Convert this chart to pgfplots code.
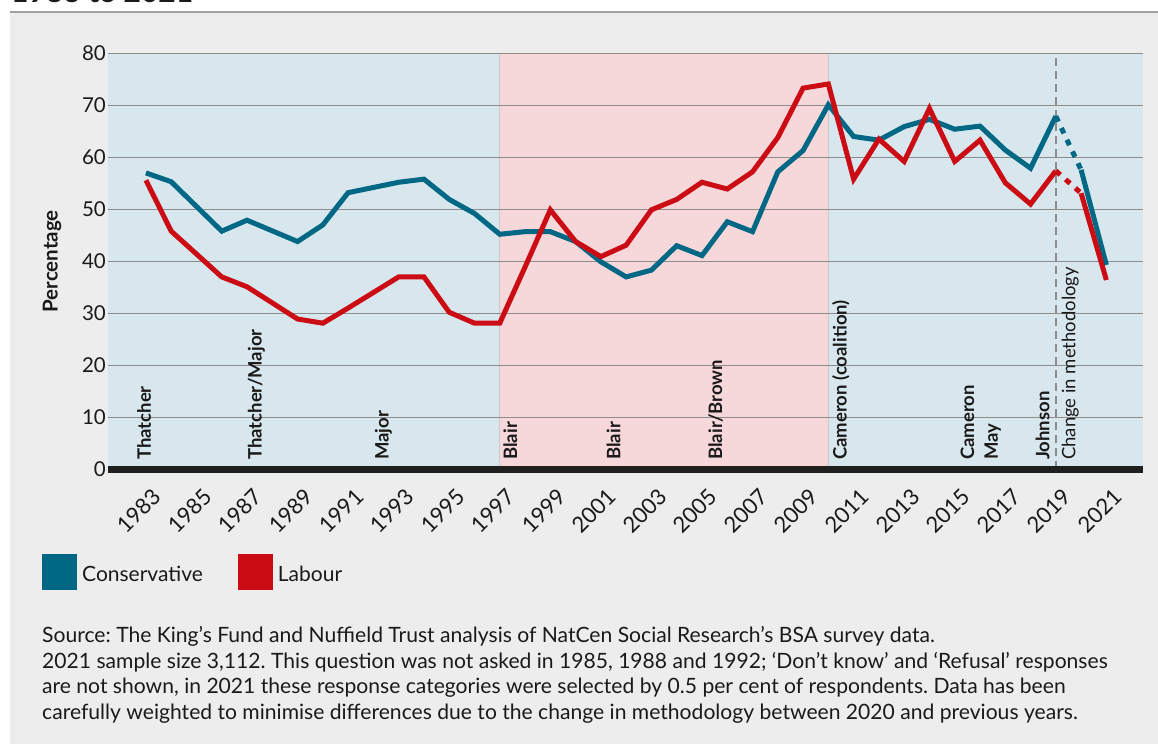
\documentclass[border=0pt]{standalone}
\usepackage{fontspec}
\setmainfont{Lato}
\usepackage{pgfplots}
\usepackage{pgfplotstable}
\pgfplotsset{compat=1.18}

\definecolor{cons}{RGB}{0,104,132}
\definecolor{lab}{RGB}{204,12,20}
\definecolor{panel}{RGB}{237,237,237}
\definecolor{bgblue}{RGB}{216,231,237}
\definecolor{bgpink}{RGB}{246,215,218}
\definecolor{gridc}{RGB}{140,140,140}
\definecolor{txt}{RGB}{26,26,26}
\definecolor{barc}{RGB}{31,31,31}
\definecolor{rulec}{RGB}{160,160,160}
\definecolor{edgec}{RGB}{205,200,205}

\pgfplotsset{
  frame/.style={
    clip=false,
    at={(108pt,274.7pt)}, anchor=south west,
    scale only axis, width=1035pt, height=416pt,
    xmin=1981.5, xmax=2022.45, ymin=0, ymax=80,
  },
}

% survey years (not asked in 1985, 1988, 1992)
\pgfplotstableread{
year cons lab
1983 57.0 55.6
1984 55.3 45.8
1986 45.8 37.0
1987 47.9 35.1
1989 43.8 28.9
1990 47.0 28.1
1991 53.2 31.0
1993 55.2 37.0
1994 55.8 37.0
1995 51.9 30.2
1996 49.2 28.1
1997 45.2 28.1
1998 45.7 38.9
1999 45.7 49.9
2000 43.8 43.8
2001 39.9 40.9
2002 37.0 43.1
2003 38.3 49.9
2004 43.0 51.9
2005 41.1 55.2
2006 47.6 53.9
2007 45.7 57.2
2008 57.2 63.8
2009 61.3 73.3
2010 70.1 74.1
2011 64.0 55.8
2012 63.3 63.5
2013 65.9 59.2
2014 67.3 69.4
2015 65.4 59.2
2016 66.0 63.3
2017 61.4 55.1
2018 57.9 51.0
2019 67.9 57.4
}\oldmethod

\pgfplotstableread{
year cons lab
2019 67.9 57.4
2020 57.6 53.1
}\changeover

\pgfplotstableread{
year cons lab
2020 57.6 53.1
2021 39.3 36.4
}\newmethod

\begin{document}
\begin{tikzpicture}[
  gov/.style={rotate=90, anchor=west, inner sep=0pt, text=txt,
              font=\fontsize{18.5}{20}\selectfont\bfseries}]
\fill[white] (0pt,0pt) rectangle (1158pt,744pt);
\fill[panel] (10pt,0pt) rectangle (1158pt,731pt);
\draw[rulec, line width=2pt] (10pt,731.5pt) -- (1158pt,731.5pt);
\begin{scope}
  \clip (0pt,740pt) rectangle (1158pt,744pt);
  \node[anchor=base west, inner sep=0pt, text=txt, font=\fontsize{30}{36}\selectfont\bfseries] at (11pt,741pt) {1983 to 2021};
\end{scope}

% government bands
\begin{axis}[frame, hide axis]
\addplot[draw=none, fill=bgblue] coordinates {(1981.5,80) (1997,80)} \closedcycle;
\addplot[draw=none, fill=bgpink] coordinates {(1997,80) (2010,80)} \closedcycle;
\addplot[draw=none, fill=bgblue] coordinates {(2010,80) (2022.45,80)} \closedcycle;
\addplot[edgec, line width=1pt] coordinates {(1997,0) (1997,80)};
\addplot[edgec, line width=1pt] coordinates {(2010,0) (2010,80)};
\end{axis}

\begin{axis}[
  frame,
  axis line style={draw=none},
  major tick style={draw=none},
  xtick={1983,1985,...,2021},
  ytick={0,10,...,80},
  ymajorgrids,
  grid style={gridc, line width=1.4pt},
  /pgf/number format/assume math mode=true,
  /pgf/number format/1000 sep={},
  tick label style={font=\fontsize{20.5}{24}\selectfont, text=txt},
  xticklabel style={font=\fontsize{22}{24}\selectfont, rotate=45, anchor=north east,
                    inner sep=1pt, xshift=-7.5pt, yshift=-15.5pt},
  yticklabel style={inner sep=2pt},
  ylabel={Percentage},
  ylabel style={at={(axis description cs:0,0.5)}, anchor=center, yshift=56pt,
                font=\fontsize{20.5}{24}\selectfont\bfseries, text=txt},
  legend columns=2,
  legend image code/.code={\fill[#1] (0pt,-13pt) rectangle (30pt,18pt);},
  legend style={at={(axis description cs:-0.0638,-0.204)}, anchor=north west,
                draw=none, fill=none, inner sep=0pt, text=txt,
                font=\fontsize{21}{24}\selectfont,
                nodes={inner sep=0pt},
                /tikz/every odd column/.append style={column sep=5pt},
                /tikz/every even column/.append style={column sep=35pt}},
]
% methodology change
\addplot[gridc, line width=1.4pt, dash pattern=on 8pt off 5pt, forget plot]
  coordinates {(2019,0) (2019,80)};
% baseline bar
\addplot[barc, line width=6.7pt, forget plot]
  coordinates {(1981.5,0) (2022.45,0)};

\addplot[cons, line width=5pt] table[x=year, y=cons] {\oldmethod};
\addlegendentry{Conservative}
\addplot[lab, line width=5pt] table[x=year, y=lab] {\oldmethod};
\addlegendentry{Labour}

\addplot[cons, line width=5pt, dash pattern=on 6pt off 7pt, forget plot]
  table[x=year, y=cons] {\changeover};
\addplot[cons, line width=5pt, forget plot] table[x=year, y=cons] {\newmethod};
\addplot[lab, line width=5pt, dash pattern=on 6pt off 7pt, forget plot]
  table[x=year, y=lab] {\changeover};
\addplot[lab, line width=5pt, forget plot] table[x=year, y=lab] {\newmethod};

\node[gov] at (axis cs:1982.93,1.8) {Thatcher};
\node[gov] at (axis cs:1987.37,1.8) {Thatcher/Major};
\node[gov] at (axis cs:1992.40,1.8) {Major};
\node[gov] at (axis cs:1997.42,1.8) {Blair};
\node[gov] at (axis cs:2001.50,1.8) {Blair};
\node[gov] at (axis cs:2005.54,1.8) {Blair/Brown};
\node[gov] at (axis cs:2010.49,1.8) {Cameron (coalition)};
\node[gov] at (axis cs:2015.50,1.8) {Cameron};
\node[gov] at (axis cs:2016.50,1.8) {May};
\node[gov] at (axis cs:2018.48,1.8) {Johnson};
\node[gov, font=\fontsize{18.5}{20}\selectfont] at (axis cs:2019.57,1.8) {Change in methodology};
\end{axis}

\begin{scope}[every node/.style={anchor=base west, inner sep=0pt, text=txt, font=\fontsize{21.1}{24}\selectfont\frenchspacing}]
\node at (42pt,102pt) {Source: The King’s Fund and Nuffield Trust analysis of NatCen Social Research’s BSA survey data.};
\node at (42pt,76pt) {2021 sample size 3,112. This question was not asked in 1985, 1988 and 1992; ‘Don’t know’ and ‘Refusal’ responses};
\node at (42pt,51pt) {are not shown, in 2021 these response categories were selected by 0.5 per cent of respondents. Data has been};
\node at (42pt,25pt) {carefully weighted to minimise differences due to the change in methodology between 2020 and previous years.};
\end{scope}
\pgfresetboundingbox
\path[use as bounding box] (0pt,0pt) rectangle (1158pt,744pt);
\end{tikzpicture}
\end{document}
